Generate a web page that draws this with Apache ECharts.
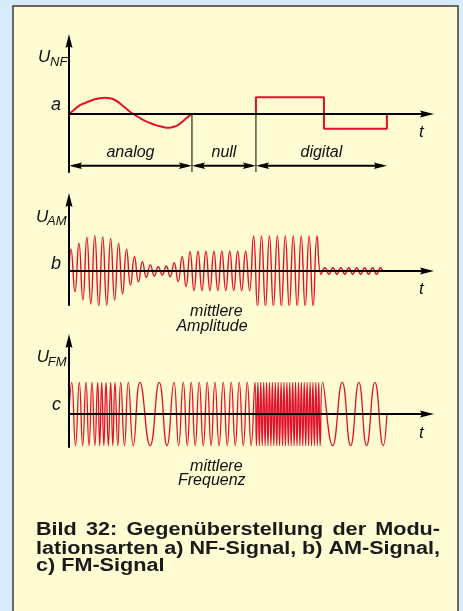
<!DOCTYPE html>
<html>
<head>
<meta charset="utf-8">
<script src="https://cdn.jsdelivr.net/npm/echarts@6/dist/echarts.min.js"></script>
<style>
  html, body { margin: 0; padding: 0; background: #d7ebfa; }
  #chart { width: 463px; height: 611px; }
</style>
</head>
<body>
<div id="chart"></div>
<script>
// Comparison of modulation types: NF signal, AM signal and FM signal on a shared time axis.
// Time unit: one carrier period. Amplitude unit: shared by all three panels.

// Time sections of the NF signal: analog | null | digital (high, low)
const sectionBounds = [0, 15.49, 23.55, 32.12, 40.05];
const sectionNames = ['analog', 'null', 'digital'];

// NF analog part, sampled along the curve
const nfAnalogT = [0, 0.76, 1.39, 2.02, 2.64, 3.27, 3.90, 4.53, 5.16, 5.79, 6.42, 7.05, 7.68, 8.31,
                   8.94, 9.57, 10.20, 10.83, 11.46, 12.09, 12.59, 13.22, 13.73, 14.23, 14.74, 15.11, 15.49];
const nfAnalogU = [0, 0.31, 0.56, 0.69, 0.81, 0.92, 0.99, 1.02, 0.98, 0.875, 0.66, 0.41, 0.14, -0.06,
                   -0.26, -0.43, -0.56, -0.68, -0.77, -0.84, -0.86, -0.80, -0.69, -0.50, -0.28, -0.13, 0];
// NF digital part: high level, low level
const nfDigitalLevels = [1.04, -0.92];

// AM: peak value of each carrier half-cycle (alternating +/-), half-cycle length in carrier periods
const amHalfPeriod = 0.5;
const amAnalog = [1.36, 1.29, 1.73, 1.81, 2.11, 2.06, 2.21, 2.19, 2.14, 2.13, 2.04, 1.81, 1.73, 1.44, 1.36,
                  0.88, 0.89, 0.67, 0.58, 0.39, 0.38, 0.31, 0.27, 0.25, 0.31, 0.36, 0.52, 0.67, 0.89, 0.98, 1.21];
const amNull = [1.23, 1.23, 1.23, 1.23, 1.23, 1.23, 1.23, 1.23, 1.23, 1.23, 1.23, 1.23, 1.23, 1.23, 1.23];
const amDigitalHigh = [2.19, 2.23, 2.19, 2.23, 2.19, 2.23, 2.19, 2.23, 2.19, 2.23, 2.19, 2.23, 2.19, 2.23, 2.19, 2.23, 2.19];
const amDigitalLow = [0.2, 0.2, 0.2, 0.2, 0.2, 0.2, 0.2, 0.2, 0.2, 0.2, 0.2, 0.2, 0.2, 0.2, 0.2, 0.2];

// FM: constant amplitude, times of successive extrema (peak, trough, peak, ...)
const fmAmplitude = 1.98;
const fmExtremaT = [
  0.34, 0.82, 1.30, 1.72, 2.14, 2.52, 2.90, 3.26, 3.61, 3.87, 4.12, 4.39, 4.66, 4.96, 5.25, 5.52,
  5.79, 6.15, 6.51, 6.99, 7.47, 8.10, 8.94, 10.22, 11.37, 12.34, 13.22, 13.81, 14.40, 14.90,
  15.40, 15.90, 16.41, 16.92, 17.42, 17.90, 18.39, 18.91, 19.43, 19.94, 20.44, 20.95, 21.45, 21.96,
  22.46, 22.95, 23.43,
  23.61, 23.80, 23.98, 24.16, 24.34, 24.53, 24.71, 24.89, 25.07, 25.26, 25.44, 25.62, 25.80, 25.99,
  26.17, 26.35, 26.53, 26.72, 26.90, 27.08, 27.26, 27.45, 27.63, 27.81, 27.99, 28.18, 28.36, 28.54,
  28.72, 28.91, 29.09, 29.27, 29.45, 29.64, 29.82, 30.00, 30.18, 30.37, 30.55, 30.73, 30.91, 31.10,
  31.28, 31.46, 31.64, 31.95,
  33.21, 34.42, 35.48, 36.52, 37.49, 38.54, 39.58
];
const fmEndT = 40.05;

// Panel value ranges [min, max] (time axis shared)
const timeMax = 45.1;
const nfRange = [-3.625, 4.5625];
const amRange = [-2.125, 4.4375];
const fmRange = [-2.0625, 4.5625];
const spanArrowLevel = -3.23;

const captionLines = [
  'Bild 32: Gegenüberstellung der Modu-',
  'lationsarten a) NF-Signal, b) AM-Signal,',
  'c) FM-Signal'
];

// ---------- build series data ----------
const nfAnalogData = nfAnalogT.map((t, i) => [t, nfAnalogU[i]]);
const b = sectionBounds;
const nfDigitalData = [
  [b[2], 0], [b[2], nfDigitalLevels[0]], [b[3], nfDigitalLevels[0]],
  [b[3], nfDigitalLevels[1]], [b[4], nfDigitalLevels[1]], [b[4], 0]
];

const amHalf = amAnalog.concat(amNull, amDigitalHigh, amDigitalLow);
const amData = [[0, 0]];
amHalf.forEach((a, k) => amData.push([(k + 0.5) * amHalfPeriod, k % 2 === 0 ? a : -a]));
amData.push([amHalf.length * amHalfPeriod, 0]);

const fmData = [[0, 0]];
fmExtremaT.forEach((t, k) => fmData.push([t, k % 2 === 0 ? fmAmplitude : -fmAmplitude]));
fmData.push([fmEndT, 0]);

// spans: analog [b0,b1], null [b1,b2], digital [b2,b4]
const spanData = [[b[0], b[1], 0], [b[1], b[2], 1], [b[2], b[4], 2]];
const separatorData = [[b[1]], [b[2]]];

// ---------- styling ----------
const RED = '#e3102c';
const INK = '#111';
const LABEL_FONT = 'italic 16px "Liberation Sans", Arial, sans-serif';
const arrowHead = 'path://M5,0 L10,20 L5,17 L0,20 Z';

function axisLine() {
  return {
    show: true, onZero: true,
    symbol: ['none', arrowHead], symbolSize: [7, 16],
    lineStyle: { color: '#000', width: 2 }
  };
}
function xAxis(gi) {
  return {
    type: 'value', gridIndex: gi, min: 0, max: timeMax, z: 5,
    axisLine: axisLine(), axisTick: { show: false }, axisLabel: { show: false }, splitLine: { show: false }
  };
}
function yAxis(gi, range) {
  return {
    type: 'value', gridIndex: gi, min: range[0], max: range[1], z: 5,
    axisLine: axisLine(), axisTick: { show: false }, axisLabel: { show: false }, splitLine: { show: false }
  };
}

function label(text, x, y, opts) {
  opts = opts || {};
  const align = opts.align || 'left';
  return {
    type: 'text', x: x, y: y, z: 10,
    style: {
      text: text, font: opts.font || LABEL_FONT, fill: INK,
      align: align, textAlign: align, verticalAlign: 'middle', textVerticalAlign: 'middle'
    }
  };
}

// Caption: justified bold lines, set word by word
const CAP_FONT = 'bold 18px "Liberation Sans", Arial, sans-serif';
const CAP_SCALE = 1.2;
const capLeft = 36, capRight = 440;
const capY = [530.5, 548.7, 566.4];
const measureCtx = document.createElement('canvas').getContext('2d');
measureCtx.font = CAP_FONT;
const captionElements = [];
captionLines.forEach((line, li) => {
  const words = line.split(' ');
  const widths = words.map(w => measureCtx.measureText(w).width * CAP_SCALE);
  const total = widths.reduce((s, w) => s + w, 0);
  const justify = li < captionLines.length - 1;
  const gap = justify ? (capRight - capLeft - total) / (words.length - 1)
                      : measureCtx.measureText(' ').width * CAP_SCALE;
  let x = capLeft;
  words.forEach((w, i) => {
    captionElements.push({
      type: 'text', x: x, y: capY[li], scaleX: CAP_SCALE, z: 10,
      style: { text: w, font: CAP_FONT, fill: '#1a1a1a', align: 'left', textAlign: 'left',
               verticalAlign: 'middle', textVerticalAlign: 'middle' }
    });
    x += widths[i] + gap;
  });
});

const SUB_FONT = 'italic 13px "Liberation Sans", Arial, sans-serif';
const BIG_FONT = 'italic 17px "Liberation Sans", Arial, sans-serif';
const LETTER_FONT = 'italic 18px "Liberation Sans", Arial, sans-serif';

const option = {
  animation: false,
  backgroundColor: '#d7ebfa',
  grid: [
    { left: 69, top: 41, width: 358, height: 131 },
    { left: 69, top: 200, width: 358, height: 105 },
    { left: 69, top: 341, width: 358, height: 106 }
  ],
  xAxis: [xAxis(0), xAxis(1), xAxis(2)],
  yAxis: [yAxis(0, nfRange), yAxis(1, amRange), yAxis(2, fmRange)],
  graphic: {
    elements: [
      { type: 'rect', z: -10, shape: { x: 13, y: 6, width: 445, height: 640 },
        style: { fill: '#fffbd3', stroke: '#3c3c3c', lineWidth: 1.5 } },
      // panel a
      label('U', 38, 57.3, { font: BIG_FONT }),
      label('NF', 50, 62.2, { font: SUB_FONT }),
      label('a', 61, 105.4, { font: LETTER_FONT, align: 'right' }),
      label('t', 419, 132.3, { font: BIG_FONT }),
      // panel b
      label('U', 36, 217.4, { font: BIG_FONT }),
      label('AM', 47, 221.2, { font: SUB_FONT }),
      label('b', 61, 263.7, { font: LETTER_FONT, align: 'right' }),
      label('t', 419, 289, { font: BIG_FONT }),
      label('mittlere', 216.3, 311.7, { align: 'center' }),
      label('Amplitude', 212, 326.4, { align: 'center' }),
      // panel c
      label('U', 36.7, 357.4, { font: BIG_FONT }),
      label('FM', 47.7, 362.2, { font: SUB_FONT }),
      label('c', 61, 405.4, { font: LETTER_FONT, align: 'right' }),
      label('t', 419, 433.3, { font: BIG_FONT }),
      label('mittlere', 216.3, 466.1, { align: 'center' }),
      label('Frequenz', 211.8, 481, { align: 'center' })
    ].concat(captionElements)
  },
  series: [
    {
      name: 'NF analog', type: 'line', xAxisIndex: 0, yAxisIndex: 0, z: 2,
      data: nfAnalogData, smooth: 0.3, showSymbol: false,
      lineStyle: { color: RED, width: 2 }
    },
    {
      name: 'NF digital', type: 'line', xAxisIndex: 0, yAxisIndex: 0, z: 2,
      data: nfDigitalData, smooth: false, showSymbol: false,
      lineStyle: { color: RED, width: 2 }
    },
    {
      name: 'section separators', type: 'custom', xAxisIndex: 0, yAxisIndex: 0, z: 3,
      data: separatorData,
      renderItem: function (params, api) {
        const p0 = api.coord([api.value(0), 0]);
        const p1 = api.coord([api.value(0), nfRange[0]]);
        return { type: 'line', shape: { x1: p0[0], y1: p0[1], x2: p1[0], y2: p1[1] },
                 style: { stroke: '#000', lineWidth: 1 } };
      }
    },
    {
      name: 'section spans', type: 'custom', xAxisIndex: 0, yAxisIndex: 0, z: 3,
      data: spanData,
      renderItem: function (params, api) {
        const a = api.coord([api.value(0), spanArrowLevel]);
        const c = api.coord([api.value(1), spanArrowLevel]);
        const y = a[1], L = 13, W = 3.2;
        const name = sectionNames[api.value(2)];
        return {
          type: 'group',
          children: [
            { type: 'line', shape: { x1: a[0] + 4, y1: y, x2: c[0] - 4, y2: y },
              style: { stroke: '#000', lineWidth: 2 } },
            { type: 'polygon', shape: { points: [[a[0], y], [a[0] + L, y - W], [a[0] + L - 2, y], [a[0] + L, y + W]] },
              style: { fill: '#000' } },
            { type: 'polygon', shape: { points: [[c[0], y], [c[0] - L, y - W], [c[0] - L + 2, y], [c[0] - L, y + W]] },
              style: { fill: '#000' } },
            { type: 'text', x: (a[0] + c[0]) / 2, y: y - 13,
              style: { text: name, font: LABEL_FONT, fill: INK, align: 'center', textAlign: 'center',
                       verticalAlign: 'middle', textVerticalAlign: 'middle' } }
          ]
        };
      }
    },
    {
      name: 'AM', type: 'line', xAxisIndex: 1, yAxisIndex: 1, z: 2,
      data: amData, smooth: 0.5, showSymbol: false,
      lineStyle: { color: RED, width: 1.4 }
    },
    {
      name: 'FM', type: 'line', xAxisIndex: 2, yAxisIndex: 2, z: 2,
      data: fmData, smooth: 0.5, showSymbol: false,
      lineStyle: { color: RED, width: 1.3 }
    }
  ]
};

const chart = echarts.init(document.getElementById('chart'), null, { renderer: 'canvas' });
chart.setOption(option);
</script>
</body>
</html>
